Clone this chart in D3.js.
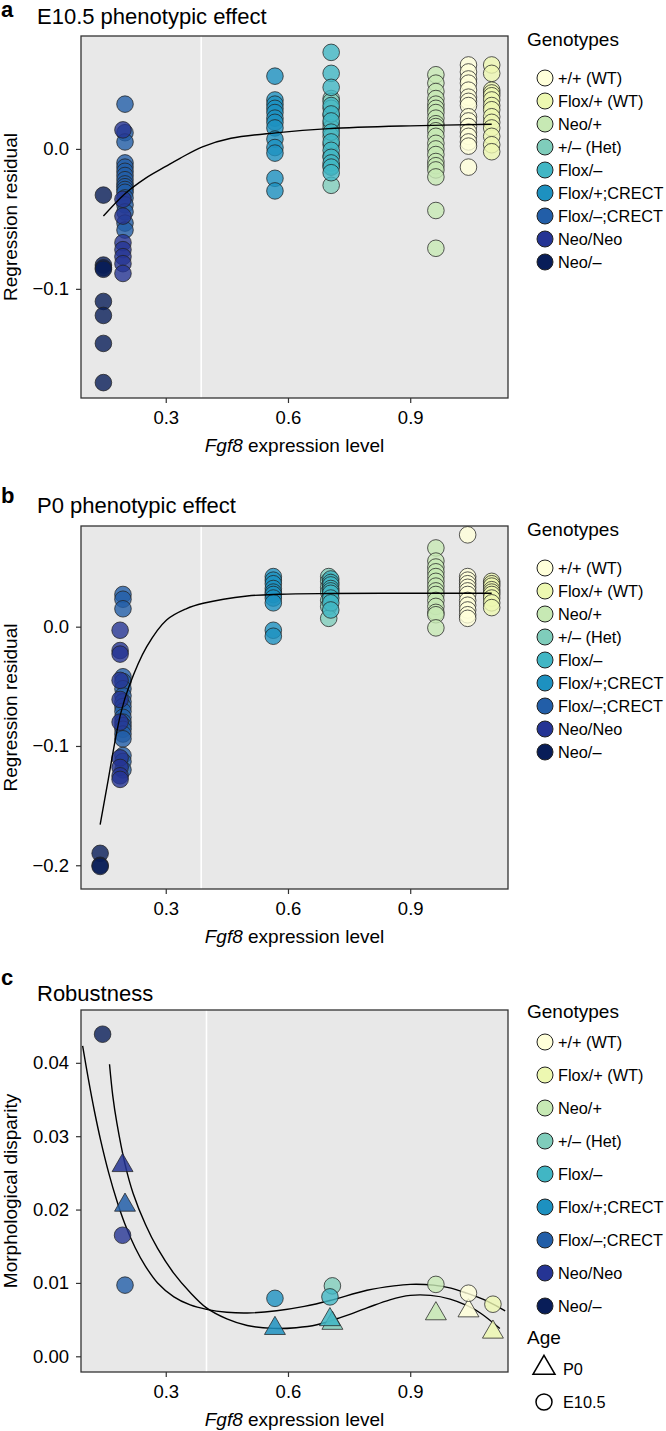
<!DOCTYPE html>
<html>

<head>
    <meta charset="UTF-8">
    <style>
        body { margin: 0; background: #fff; }
        svg { font-family: "Liberation Sans", Arial, Helvetica, sans-serif; display: block; }
    </style>
</head>

<body>
    <svg></svg>
    <script src="https://d3js.org/d3.v7.min.js"></script>

    <script>

        let width = 666, height = 1431;

        // genotypes, in legend order
        const genotypes = ["+/+ (WT)", "Flox/+ (WT)", "Neo/+", "+/\u2013 (Het)", "Flox/\u2013",
            "Flox/+;CRECT", "Flox/\u2013;CRECT", "Neo/Neo", "Neo/\u2013"];
        const genoColors = ["#ffffd9", "#edf8b1", "#c7e9b4", "#7fcdbb", "#41b6c4",
            "#1d91c0", "#225ea8", "#253494", "#081d58"];

        // panel a : E10.5 regression residuals (x = Fgf8 level per genotype)
        const residAx = [1.043, 1.10, 0.963, 0.706, 0.706, 0.568, 0.200, 0.195, 0.147];
        const residA = [
            [0.060, 0.055, 0.050, 0.047, 0.042, 0.037, 0.034, 0.031, 0.023, 0.020, 0.016, 0.012, 0.009, 0.005, 0.002, -0.013],
            [0.060, 0.054, 0.042, 0.040, 0.038, 0.035, 0.031, 0.028, 0.023, 0.019, 0.015, 0.009, 0.003, -0.002],
            [0.053, 0.047, 0.041, 0.036, 0.032, 0.029, 0.026, 0.022, 0.018, 0.016, 0.013, 0.009, 0.004, 0.000, -0.004, -0.009, -0.012, -0.015, -0.020, -0.044, -0.071],
            [0.036, 0.034, 0.029, 0.024, 0.018, 0.015, 0.009, 0.003, -0.005, -0.012, -0.026],
            [0.069, 0.054, 0.044, 0.031, 0.025, 0.020, 0.012, 0.005, -0.001, -0.006, -0.010, -0.013, -0.017],
            [0.052, 0.035, 0.032, 0.029, 0.026, 0.022, 0.019, 0.015, 0.007, 0.001, -0.003, -0.021, -0.030],
            [0.032, 0.0116, 0.005, -0.010, -0.013, -0.016, -0.019, -0.022, -0.025, -0.027, -0.029, -0.031, -0.035, -0.040, -0.045, -0.053, -0.058],
            [0.0136, -0.036, -0.048, -0.067, -0.072, -0.077, -0.082, -0.089],
            [-0.033, -0.083, -0.085, -0.086, -0.109, -0.119, -0.139, -0.167]
        ];
        const fitA = [[0.147, -0.048], [0.2, -0.032], [0.25, -0.021], [0.3, -0.0125], [0.335, -0.0067], [0.39, 0.0015],
            [0.46, 0.0076], [0.57, 0.0115], [0.7, 0.0145], [0.9, 0.0165], [1.1, 0.0176]];

        // panel b : P0 regression residuals
        const residBx = [1.041, 1.10, 0.963, 0.700, 0.705, 0.564, 0.195, 0.188, 0.139];
        const residB = [
            [0.077, 0.042, 0.039, 0.036, 0.033, 0.030, 0.027, 0.022, 0.018, 0.014, 0.010, 0.007],
            [0.038, 0.036, 0.034, 0.031, 0.029, 0.027, 0.024, 0.020, 0.016],
            [0.066, 0.055, 0.050, 0.046, 0.042, 0.038, 0.034, 0.030, 0.027, 0.022, 0.017, 0.012, 0.010, -0.001],
            [0.042, 0.038, 0.033, 0.029, 0.022, 0.017, 0.007],
            [0.040, 0.037, 0.035, 0.032, 0.030, 0.028, 0.024, 0.020, 0.014],
            [0.042, 0.039, 0.036, 0.032, 0.029, 0.027, 0.024, 0.020, -0.003, -0.008],
            [0.027, 0.023, 0.015, -0.042, -0.046, -0.052, -0.058, -0.063, -0.067, -0.071, -0.076, -0.080, -0.083, -0.086, -0.090, -0.094, -0.108, -0.113, -0.120],
            [-0.003, -0.020, -0.023, -0.045, -0.061, -0.080, -0.110, -0.118, -0.125, -0.128],
            [-0.190, -0.200, -0.201]
        ];
        const fitB = [[0.139, -0.166], [0.159, -0.128], [0.175, -0.097], [0.19, -0.072], [0.21, -0.05], [0.253, -0.017],
            [0.302, 0.0056], [0.35, 0.015], [0.392, 0.0196], [0.5, 0.0257], [0.58, 0.0272], [0.7, 0.0278], [0.9, 0.028], [1.1, 0.028]];

        // panel c : morphological disparity per genotype
        const dispX = [1.043, 1.103, 0.963, 0.709, 0.703, 0.568, 0.200, 0.194, 0.145];
        const dispE105 = [0.0086, 0.0071, 0.0098, 0.0096, 0.0081, 0.0079, 0.0097, 0.0165, 0.0439];
        const dispP0 = [0.0062, 0.0033, 0.0058, 0.0045, 0.0050, 0.0038, 0.0206, 0.0260, null];
        const fitC1 = [[0.096, 0.0423], [0.11, 0.0378], [0.125, 0.0334], [0.14, 0.0295], [0.16, 0.0250], [0.18, 0.0212],
            [0.2, 0.0180], [0.225, 0.0148], [0.25, 0.0123], [0.28, 0.0100], [0.32, 0.0081], [0.36, 0.0070], [0.4, 0.0064],
            [0.45, 0.0060], [0.5, 0.0059], [0.572, 0.0062], [0.64, 0.0068], [0.703, 0.0076], [0.794, 0.0090],
            [0.86, 0.0096], [0.9, 0.0098], [0.957, 0.0097], [1.0, 0.0093], [1.039, 0.0086], [1.09, 0.0075], [1.133, 0.0062]];
        const fitC2 = [[0.162, 0.0398], [0.17, 0.0355], [0.18, 0.0318], [0.2, 0.0262], [0.22, 0.0222], [0.25, 0.0180],
            [0.28, 0.0147], [0.32, 0.0113], [0.36, 0.0087], [0.4, 0.0066], [0.45, 0.0051], [0.5, 0.0042], [0.564, 0.0038],
            [0.62, 0.0039], [0.671, 0.0043], [0.73, 0.0053], [0.794, 0.0066], [0.85, 0.0077], [0.9, 0.0083],
            [0.95, 0.0083], [0.998, 0.0078], [1.04, 0.0069], [1.072, 0.0059], [1.12, 0.0038]];

        const xTicks = [0.3, 0.6, 0.9];
        const ageLabels = ["P0", "E10.5"];

        let svg = d3.select("svg")
            .attr("width", width)
            .attr("height", height)

        const color = d3.scaleOrdinal(genotypes, genoColors);

        const x = d3.scaleLinear().domain([0.092, 1.14]).range([81, 508]);

        // flatten per-genotype arrays into points
        function points(xs, ys) {
            let out = [];
            ys.forEach((vals, i) => vals.forEach(v => out.push({ g: genotypes[i], x: xs[i], y: v })));
            return out;
        }

        function panel(opt) {
            const y = d3.scaleLinear().domain(opt.yDomain).range([opt.bottom, opt.top]);
            const g = svg.append("g");

            // panel label and title
            g.append("text").attr("x", 1).attr("y", opt.top - opt.labelOff)
                .style("font-size", "22px").style("font-weight", "bold").text(opt.label);
            g.append("text").attr("x", 37).attr("y", opt.top - opt.titleOff)
                .style("font-size", "22px").text(opt.title);

            g.append("rect")
                .attr("x", 81).attr("y", opt.top)
                .attr("width", 427).attr("height", opt.bottom - opt.top)
                .attr("fill", "#e8e8e8");

            g.append("line")
                .attr("x1", x(opt.vline)).attr("x2", x(opt.vline))
                .attr("y1", opt.top).attr("y2", opt.bottom)
                .attr("stroke", "#fff").attr("stroke-width", 1.6);

            // axes
            const yAxis = d3.axisLeft(y).tickValues(opt.yTicks).tickFormat(opt.yFormat)
                .tickSize(5).tickSizeOuter(0).tickPadding(7);
            g.append("g").attr("transform", "translate(81,0)").call(yAxis)
                .call(a => a.select(".domain").remove())
                .call(a => a.selectAll("line").attr("stroke", "#333").attr("stroke-width", 1.2))
                .call(a => a.selectAll("text").style("font-size", "18.5px").attr("fill", "#000")
                    .style("font-family", "'Liberation Sans', Arial, sans-serif"));

            const xAxis = d3.axisBottom(x).tickValues(xTicks).tickFormat(d3.format(".1f"))
                .tickSize(5).tickSizeOuter(0).tickPadding(8);
            g.append("g").attr("transform", "translate(0," + opt.bottom + ")").call(xAxis)
                .call(a => a.select(".domain").remove())
                .call(a => a.selectAll("line").attr("stroke", "#333").attr("stroke-width", 1.2))
                .call(a => a.selectAll("text").style("font-size", "18.5px").attr("fill", "#000")
                    .style("font-family", "'Liberation Sans', Arial, sans-serif"));

            // axis titles
            let xt = g.append("text").attr("x", 294.5).attr("y", opt.bottom + 54)
                .attr("text-anchor", "middle").style("font-size", "19px");
            xt.append("tspan").style("font-style", "italic").text("Fgf8");
            xt.append("tspan").text(" expression level");

            g.append("text")
                .attr("transform", "translate(17," + (opt.top + opt.bottom) / 2 + ") rotate(-90)")
                .attr("text-anchor", "middle").style("font-size", "19px")
                .text(opt.yTitle);

            const line = d3.line().x(d => x(d[0])).y(d => y(d[1])).curve(d3.curveCatmullRom.alpha(0.5));

            return { g: g, y: y, line: line };
        }

        function drawFit(p, data) {
            p.g.append("path").datum(data).attr("d", p.line)
                .attr("fill", "none").attr("stroke", "#000").attr("stroke-width", 1.4);
        }

        function drawCircles(p, data) {
            p.g.append("g").selectAll("circle")
                .data(data)
                .enter()
                .append("circle")
                .attr("cx", d => x(d.x))
                .attr("cy", d => p.y(d.y))
                .attr("r", 8.3)
                .attr("fill", d => color(d.g))
                .attr("fill-opacity", 0.8)
                .attr("stroke", "#222")
                .attr("stroke-opacity", 0.75)
                .attr("stroke-width", 1);
        }

        function drawBorder(p, top, bottom) {
            p.g.append("rect")
                .attr("x", 81).attr("y", top)
                .attr("width", 427).attr("height", bottom - top)
                .attr("fill", "none").attr("stroke", "#333").attr("stroke-width", 1.3);
        }

        function genoLegend(titleY, firstY, step) {
            const lg = svg.append("g");
            lg.append("text").attr("x", 527).attr("y", titleY).style("font-size", "19px").text("Genotypes");
            genotypes.forEach((name, i) => {
                lg.append("circle").attr("cx", 545).attr("cy", firstY + i * step).attr("r", 8)
                    .attr("fill", color(name)).attr("stroke", "#222").attr("stroke-width", 1);
                lg.append("text").attr("x", 558).attr("y", firstY + i * step)
                    .attr("dy", "0.35em").style("font-size", "16.3px").text(name);
            });
        }

        // ---- panel a
        let pa = panel({
            top: 36, bottom: 398, yDomain: [-0.178, 0.0807], yTicks: [-0.1, 0.0],
            yFormat: d => d3.format(".1f")(d).replace("-", "\u2212"),
            vline: 0.387, label: "a", labelOff: 19, title: "E10.5 phenotypic effect", titleOff: 12,
            yTitle: "Regression residual"
        });
        drawCircles(pa, points(residAx, residA));
        drawFit(pa, fitA);
        drawBorder(pa, 36, 398);
        genoLegend(46, 78, 23);

        // ---- panel b
        let pb = panel({
            top: 526, bottom: 889, yDomain: [-0.2199, 0.0844], yTicks: [-0.2, -0.1, 0.0],
            yFormat: d => d3.format(".1f")(d).replace("-", "\u2212"),
            vline: 0.387, label: "b", labelOff: 23, title: "P0 phenotypic effect", titleOff: 13,
            yTitle: "Regression residual"
        });
        drawCircles(pb, points(residBx, residB));
        drawFit(pb, fitB);
        drawBorder(pb, 526, 889);
        genoLegend(536, 568, 23);

        // ---- panel c
        let pc = panel({
            top: 1010, bottom: 1372, yDomain: [-0.00214, 0.0472], yTicks: [0, 0.01, 0.02, 0.03, 0.04],
            yFormat: d3.format(".2f"),
            vline: 0.4, label: "c", labelOff: 25, title: "Robustness", titleOff: 9,
            yTitle: "Morphological disparity"
        });
        drawFit(pc, fitC1);
        drawFit(pc, fitC2);

        const tri = d3.symbol().type(d3.symbolTriangle).size(190);
        pc.g.append("g").selectAll("path")
            .data(genotypes.map((gname, i) => ({ g: gname, x: dispX[i], y: dispP0[i] })).filter(d => d.y != null))
            .enter()
            .append("path")
            .attr("d", tri)
            .attr("transform", d => "translate(" + x(d.x) + "," + pc.y(d.y) + ")")
            .attr("fill", d => color(d.g))
            .attr("fill-opacity", 0.85)
            .attr("stroke", "#222")
            .attr("stroke-opacity", 0.75)
            .attr("stroke-width", 1);
        drawCircles(pc, genotypes.map((gname, i) => ({ g: gname, x: dispX[i], y: dispE105[i] })));
        drawBorder(pc, 1010, 1372);
        genoLegend(1018, 1042, 33);

        // age legend
        const al = svg.append("g");
        al.append("text").attr("x", 527).attr("y", 1344).style("font-size", "19px").text("Age");
        al.append("path").attr("d", tri.size(210)())
            .attr("transform", "translate(544,1368)")
            .attr("fill", "none").attr("stroke", "#000").attr("stroke-width", 1.5);
        al.append("text").attr("x", 563).attr("y", 1369).attr("dy", "0.35em")
            .style("font-size", "16.3px").text(ageLabels[0]);
        al.append("circle").attr("cx", 544).attr("cy", 1402).attr("r", 8)
            .attr("fill", "none").attr("stroke", "#000").attr("stroke-width", 1.5);
        al.append("text").attr("x", 563).attr("y", 1402).attr("dy", "0.35em")
            .style("font-size", "16.3px").text(ageLabels[1]);

    </script>

</body>

</html>
